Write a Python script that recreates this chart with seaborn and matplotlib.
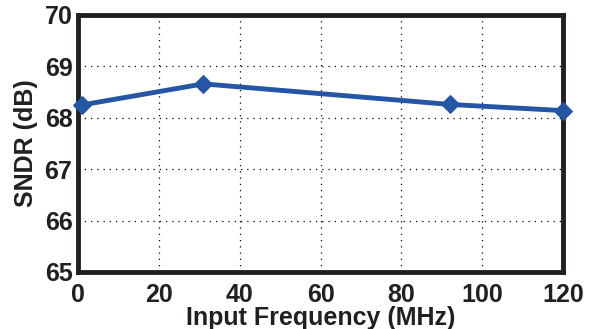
import matplotlib
matplotlib.use("Agg")
import matplotlib.pyplot as plt
import seaborn as sns
import pandas as pd

freq_mhz = [1, 31, 92, 120]
sndr_db = [68.25, 68.66, 68.26, 68.14]
x_ticks = [0, 20, 40, 60, 80, 100, 120]
y_ticks = [65, 66, 67, 68, 69, 70]

sns.set_style("white")
plt.rcParams['font.family'] = ['Liberation Sans', 'DejaVu Sans']

df = pd.DataFrame({"f": freq_mhz, "s": sndr_db})
fig = plt.figure(figsize=(5.89, 3.29), dpi=100)
ax = fig.add_axes([78/589, 1 - 272/329, (563-78)/589, (272-15)/329])
sns.lineplot(data=df, x="f", y="s", ax=ax, color="#2456a5", linewidth=3.5,
             marker="D", markersize=9, markeredgecolor="#2456a5", clip_on=False, zorder=5)
ax.set_xlim(0, 120)
ax.set_ylim(65, 70)
ax.set_xticks(x_ticks)
ax.set_yticks(y_ticks)
ax.grid(True, color="black", linestyle=(0, (1, 4)), linewidth=0.9)
for s in ax.spines.values():
    s.set_linewidth(3.5)
    s.set_color("#231f20")
ax.tick_params(direction="in", length=3, width=1, labelsize=18)
ax.tick_params(axis="x", pad=8)
ax.tick_params(axis="y", pad=4)
for lbl in ax.get_xticklabels() + ax.get_yticklabels():
    lbl.set_fontweight("bold")
    lbl.set_color("#231f20")
ax.set_xlabel("Input Frequency (MHz)", fontsize=18, fontweight="bold", labelpad=-1, color="#231f20")
ax.set_ylabel("SNDR (dB)", fontsize=18, fontweight="bold", labelpad=5, color="#231f20")
fig.savefig("out.png", dpi=100)
